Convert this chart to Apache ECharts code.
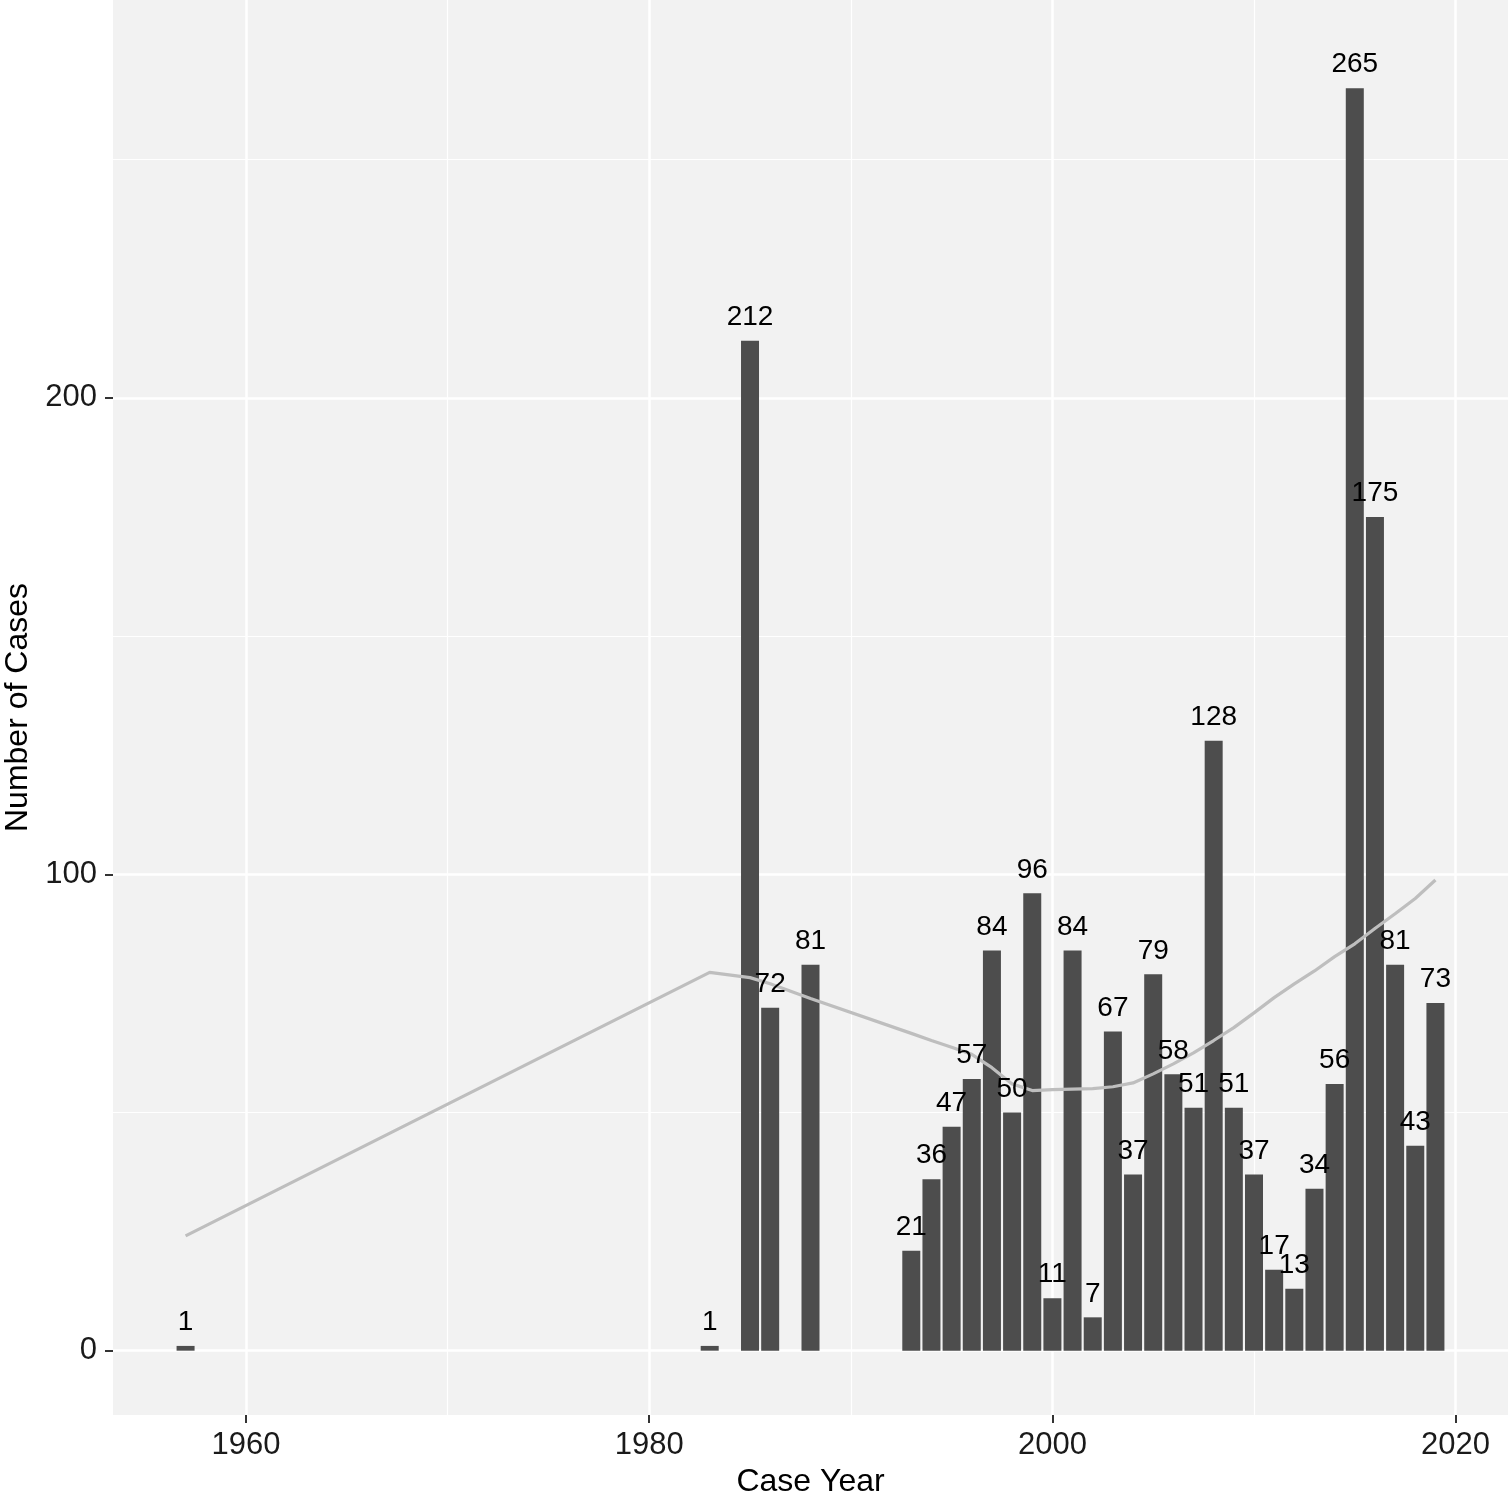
<!DOCTYPE html>
<html>
<head>
<meta charset="utf-8">
<script src="https://cdn.jsdelivr.net/npm/echarts@6/dist/echarts.min.js"></script>
<style>
html,body{margin:0;padding:0;background:#fff;}
#chart{width:1509px;height:1509px;}
</style>
</head>
<body>
<div id="chart"></div>
<script>
// Data
var years = [1957,1983,1985,1986,1988,1993,1994,1995,1996,1997,1998,1999,2000,2001,2002,2003,2004,2005,2006,2007,2008,2009,2010,2011,2012,2013,2014,2015,2016,2017,2018,2019];
var cases = [1,1,212,72,81,21,36,47,57,84,50,96,11,84,7,67,37,79,58,51,128,51,37,17,13,34,56,265,175,81,43,73];
// Smoothed trend line (grey)
var trendYears = [1957,1983,1985,1986,1988,1993,1994,1995,1996,1997,1998,1999,2000,2001,2002,2003,2004,2005,2006,2007,2008,2009,2010,2011,2012,2013,2014,2015,2016,2017,2018,2019];
var trendValues = [24.1,79.4,78.3,77.0,73.9,66.6,65.1,63.7,62.2,59.4,56.0,54.6,54.8,54.9,55.0,55.4,56.2,58.1,60.2,62.5,65.1,67.8,70.9,74.1,77.0,79.7,82.7,85.4,88.6,91.7,94.9,98.8];
// Axis ticks
var xTicks = [1960,1980,2000,2020];
var xMinor = [1970,1990,2010];
var yTicks = [0,100,200];
var yMinor = [50,150,250];

var FONT = "'Liberation Sans', Arial, Helvetica, sans-serif";

var barData = years.map(function(y,i){ return [y, cases[i]]; });
var lineData = trendYears.map(function(y,i){ return [y, trendValues[i]]; });

var gridLines = [];
xTicks.forEach(function(v){ gridLines.push({xAxis:v, lineStyle:{color:'#ffffff', width:2.5, type:'solid'}}); });
xMinor.forEach(function(v){ gridLines.push({xAxis:v, lineStyle:{color:'#ffffff', width:1.2, type:'solid'}}); });
yTicks.forEach(function(v){ gridLines.push({yAxis:v, lineStyle:{color:'#ffffff', width:2.5, type:'solid'}}); });
yMinor.forEach(function(v){ gridLines.push({yAxis:v, lineStyle:{color:'#ffffff', width:1.2, type:'solid'}}); });

var chart = echarts.init(document.getElementById('chart'), null, {renderer:'canvas'});
chart.setOption({
  animation:false,
  backgroundColor:'#ffffff',
  grid:{left:113, right:1, top:0, bottom:94, show:true, backgroundColor:'#F2F2F2', borderWidth:0, containLabel:false, outerBoundsMode:'none'},
  xAxis:{
    type:'value', min:1953.4, max:2022.6,
    name:'Case Year', nameLocation:'middle', nameGap:47,
    nameTextStyle:{fontFamily:FONT, fontSize:32, color:'#000'},
    axisLine:{show:false, onZero:false},
    axisTick:{show:true, customValues:xTicks, length:8, lineStyle:{color:'#333', width:2}},
    axisLabel:{customValues:xTicks, fontFamily:FONT, fontSize:31, color:'#1a1a1a', margin:15,
      formatter:function(v){ return String(v); }},
    splitLine:{show:false}
  },
  yAxis:{
    type:'value', min:-13.5, max:283.5,
    name:'Number of Cases', nameLocation:'middle', nameGap:60,
    nameTextStyle:{fontFamily:FONT, fontSize:32, color:'#000'},
    axisLine:{show:false, onZero:false},
    axisTick:{show:true, customValues:yTicks, length:8, lineStyle:{color:'#333', width:2}},
    axisLabel:{customValues:yTicks, fontFamily:FONT, fontSize:31, color:'#1a1a1a', margin:16,
      formatter:function(v){ return String(v); }},
    splitLine:{show:false}
  },
  series:[
    {
      type:'line', data:[], z:0, zlevel:0, silent:true,
      markLine:{silent:true, z:0, zlevel:0, symbol:['none','none'], label:{show:false}, animation:false, data:gridLines}
    },
    {
      type:'bar', data:barData, barWidth:18, z:2,
      itemStyle:{color:'#4D4D4D'}
    },
    {
      type:'line', data:lineData, z:3, symbol:'none', smooth:false,
      lineStyle:{color:'#BEBEBE', width:3.2}
    },
    {
      type:'scatter', data:barData, z:4, symbol:'circle', symbolSize:1, silent:true,
      itemStyle:{color:'rgba(0,0,0,0)'},
      label:{show:true, position:'top', distance:9, fontFamily:FONT, fontSize:28, color:'#000', opacity:1,
        formatter:function(p){ return String(p.value[1]); }}
    }
  ]
});
</script>
</body>
</html>
